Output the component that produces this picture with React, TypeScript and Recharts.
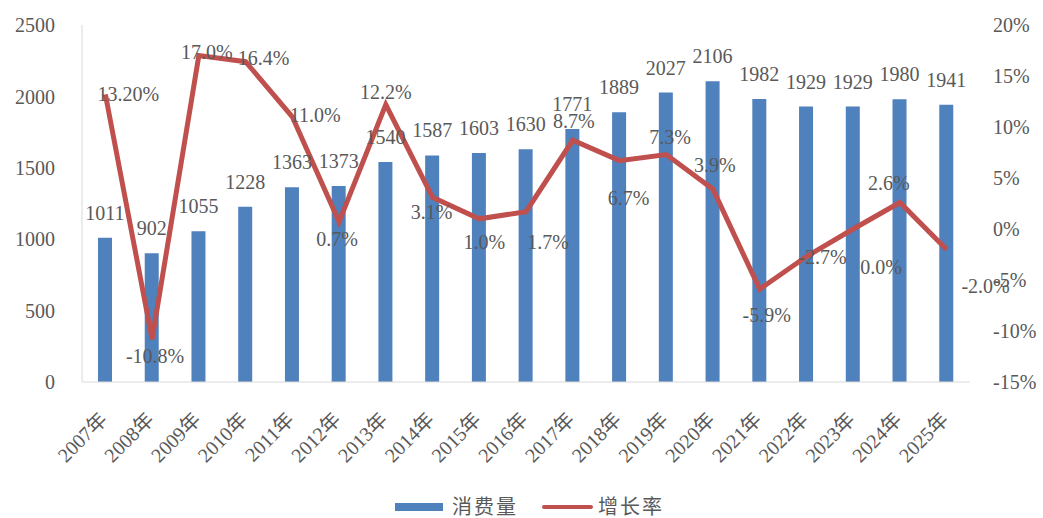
import { Bar, ComposedChart, LabelList, Legend, Line, XAxis, YAxis } from "recharts";

const years = ["2007年", "2008年", "2009年", "2010年", "2011年", "2012年", "2013年", "2014年", "2015年", "2016年", "2017年", "2018年", "2019年", "2020年", "2021年", "2022年", "2023年", "2024年", "2025年"];
const consumption = [1011, 902, 1055, 1228, 1363, 1373, 1540, 1587, 1603, 1630, 1771, 1889, 2027, 2106, 1982, 1929, 1929, 1980, 1941];
const growth = [13.2, -10.8, 17.0, 16.4, 11.0, 0.7, 12.2, 3.1, 1.0, 1.7, 8.7, 6.7, 7.3, 3.9, -5.9, -2.7, 0.0, 2.6, -2.0];
const growthText = ["13.20%", "-10.8%", "17.0%", "16.4%", "11.0%", "0.7%", "12.2%", "3.1%", "1.0%", "1.7%", "8.7%", "6.7%", "7.3%", "3.9%", "-5.9%", "-2.7%", "0.0%", "2.6%", "-2.0%"];
const leftTicks = [0, 500, 1000, 1500, 2000, 2500];
const rightTicks = [-15, -10, -5, 0, 5, 10, 15, 20];

const data = years.map((year, i) => ({ year, consumption: consumption[i], growth: growth[i] }));

// where each growth label sits relative to its point (like the hand-placed Excel labels)
const growthLabelShift: [number, number][] = [
  [23, 0], [3, 17], [8, -4], [18, -4], [23, -2], [-2, 17], [0, -13], [-1, 15], [5, 23], [22, 30],
  [1, -19], [9, 37], [4, -18], [2, -24], [7, 26], [16, 0], [28, 38], [-11, -19], [39, 37]
];

const font = "'Times New Roman', 'Liberation Serif', 'Noto Sans CJK SC', serif";
const textColor = "#595959";
const blue = "#4f81bd";
const red = "#c0504d";

function YearTick({ x, y, payload }: any) {
  return (
    <text
      x={x - 2}
      y={y + 26}
      transform={`rotate(-45, ${x - 2}, ${y + 26})`}
      textAnchor="end"
      dy="0.35em"
      fontSize={20}
      fontFamily={font}
      fill={textColor}
    >
      {payload.value}
    </text>
  );
}

function BarValue({ x, y, width, value }: any) {
  return (
    <text x={x + width / 2} y={y - 25} dy="0.35em" textAnchor="middle" fontSize={20} fontFamily={font} fill={textColor}>
      {value}
    </text>
  );
}

function GrowthValue({ x, y, index }: any) {
  const [dx, dy] = growthLabelShift[index] ?? [0, -15];
  return (
    <text x={x + dx} y={y + dy} dy="0.35em" textAnchor="middle" fontSize={20} fontFamily={font} fill={textColor}>
      {growthText[index]}
    </text>
  );
}

function LegendBox() {
  const label = { position: "absolute" as const, top: 0, lineHeight: "22px", letterSpacing: 2, whiteSpace: "nowrap" as const };
  return (
    <div style={{ height: 22, position: "relative", fontFamily: font, fontSize: 20, color: textColor }}>
      <div style={{ position: "absolute", left: 395, top: 7, width: 48, height: 8, background: blue }} />
      <span style={{ ...label, left: 452 }}>消费量</span>
      <div style={{ position: "absolute", left: 542, top: 9, width: 51, height: 4, borderRadius: 2, background: red }} />
      <span style={{ ...label, left: 598 }}>增长率</span>
    </div>
  );
}

export default function App() {
  return (
    <div style={{ position: "absolute", left: 0, top: 0, background: "#fff" }}>
      <ComposedChart width={1043} height={518} data={data} margin={{ top: 25, right: 0, bottom: 0, left: 0 }}>
        <XAxis dataKey="year" height={114} interval={0} tickLine={false} axisLine={{ stroke: "#d9d9d9" }} tick={<YearTick />} />
        <YAxis
          yAxisId="left"
          width={82}
          domain={[0, 2500]}
          ticks={leftTicks}
          tickSize={0}
          tickMargin={27}
          tickLine={false}
          axisLine={{ stroke: "#d9d9d9" }}
          tick={{ fontSize: 20, fontFamily: font, fill: textColor }}
        />
        <YAxis
          yAxisId="right"
          orientation="right"
          width={73}
          domain={[-15, 20]}
          ticks={rightTicks}
          tickSize={0}
          tickMargin={23}
          tickLine={false}
          axisLine={false}
          tickFormatter={(v) => `${v}%`}
          tick={{ fontSize: 20, fontFamily: font, fill: textColor }}
        />
        <Legend verticalAlign="bottom" content={<LegendBox />} wrapperStyle={{ left: 0, width: 1043 }} />
        <Bar yAxisId="left" dataKey="consumption" name="消费量" fill={blue} barSize={14} isAnimationActive={false}>
          <LabelList dataKey="consumption" content={<BarValue />} />
        </Bar>
        <Line
          yAxisId="right"
          type="linear"
          dataKey="growth"
          name="增长率"
          stroke={red}
          strokeWidth={5}
          dot={false}
          activeDot={false}
          isAnimationActive={false}
        >
          <LabelList dataKey="growth" content={<GrowthValue />} />
        </Line>
      </ComposedChart>
    </div>
  );
}
